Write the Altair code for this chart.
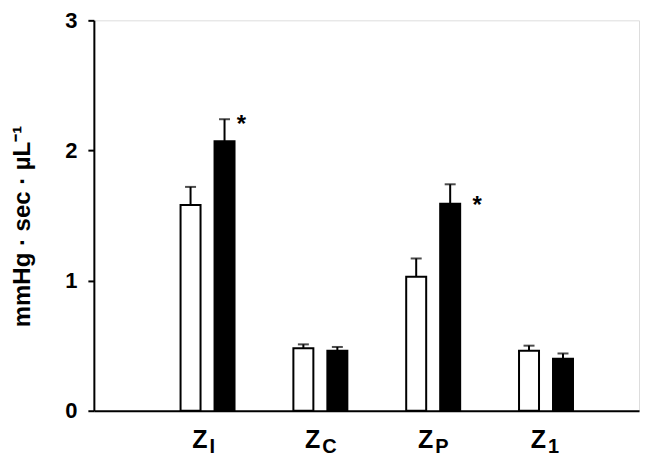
import altair as alt
import pandas as pd

categories = ["ZI", "ZC", "ZP", "Z1"]
subscripts = ["I", "C", "P", "1"]
groups = ["open", "filled"]
open_means = [1.58, 0.48, 1.03, 0.46]
open_err = [0.14, 0.03, 0.14, 0.04]
filled_means = [2.07, 0.46, 1.59, 0.40]
filled_err = [0.17, 0.03, 0.15, 0.04]
star_cats = ["ZI", "ZP"]
y_ticks = [0, 1, 2, 3]

rows = []
for i, c in enumerate(categories):
    rows.append({"cat": c, "sub": subscripts[i], "group": "open",
                 "mean": open_means[i], "upper": open_means[i] + open_err[i]})
    rows.append({"cat": c, "sub": subscripts[i], "group": "filled",
                 "mean": filled_means[i], "upper": filled_means[i] + filled_err[i]})
df = pd.DataFrame(rows)
lab = pd.DataFrame({"cat": categories, "sub": subscripts})

W, H = 546, 391
FONT = "Liberation Sans"
SP = "\u00a0"
title_text = f"mmHg{SP}·{SP}sec{SP}·{SP}µL⁻¹"

xs = alt.X("cat:N", sort=categories,
           scale=alt.Scale(paddingInner=0, paddingOuter=0.416, align=0.61),
           axis=alt.Axis(labels=False, ticks=False, title=None, domainColor="black",
                         domainWidth=2))
xo = alt.XOffset("group:N", sort=groups,
                 scale=alt.Scale(paddingInner=0.412, paddingOuter=0.866))
ys = alt.Y("mean:Q", scale=alt.Scale(domain=[0, 3]),
           axis=alt.Axis(values=y_ticks, format="d", grid=False, domainColor="black",
                         domainWidth=2, tickColor="black", tickWidth=2, tickSize=6,
                         labelPadding=11, labelFont=FONT, labelFontSize=22,
                         labelFontWeight="bold", labelColor="black",
                         title=title_text, titleFont=FONT, titleFontSize=24,
                         titleFontWeight="bold", titleColor="black", titleAngle=-90,
                         titleAlign="center", titleBaseline="middle",
                         titleX=-71, titleY=206))

base = alt.Chart(df)

rules = base.mark_rule(color="black", strokeWidth=2).encode(
    x=xs, xOffset=xo, y=alt.Y("mean:Q"), y2="upper:Q")
caps = base.mark_tick(color="black", thickness=2, size=11, orient="horizontal").encode(
    x=xs, xOffset=xo, y=alt.Y("upper:Q"))
bars = base.mark_bar(stroke="black", strokeWidth=2).encode(
    x=xs, xOffset=xo, y=ys,
    color=alt.Color("group:N", sort=groups,
                    scale=alt.Scale(domain=groups, range=["white", "black"]), legend=None))

star1 = base.transform_filter(
    (alt.datum.cat == star_cats[0]) & (alt.datum.group == "filled")
).mark_text(text="*", font=FONT, fontSize=24, fontWeight="bold", color="black",
            align="center", baseline="middle", dx=17, dy=6).encode(
    x=xs, xOffset=xo, y=alt.Y("upper:Q"))
star2 = base.transform_filter(
    (alt.datum.cat == star_cats[1]) & (alt.datum.group == "filled")
).mark_text(text="*", font=FONT, fontSize=24, fontWeight="bold", color="black",
            align="center", baseline="middle", dx=27, dy=2).encode(
    x=xs, xOffset=xo, y=alt.Y("mean:Q"))

zlab = alt.Chart(lab).mark_text(text="Z", font=FONT, fontSize=25, fontWeight="bold",
                                color="black", align="right", baseline="alphabetic",
                                dx=0).encode(
    x=alt.X("cat:N", sort=categories), y=alt.value(H + 37))
sublab = alt.Chart(lab).mark_text(font=FONT, fontSize=20, fontWeight="bold",
                                  color="black", align="left", baseline="alphabetic",
                                  dx=2).encode(
    x=alt.X("cat:N", sort=categories), y=alt.value(H + 42), text="sub:N")

chart = alt.layer(rules, caps, bars, star1, star2, zlab, sublab).properties(
    width=W, height=H,
    autosize=alt.AutoSizeParams(type="none"),
    padding={"left": 86, "top": 12, "right": 20, "bottom": 53},
).configure_view(stroke=None).configure(background="white")

chart.save("out.html", embed_options={"renderer": "svg", "actions": False})
